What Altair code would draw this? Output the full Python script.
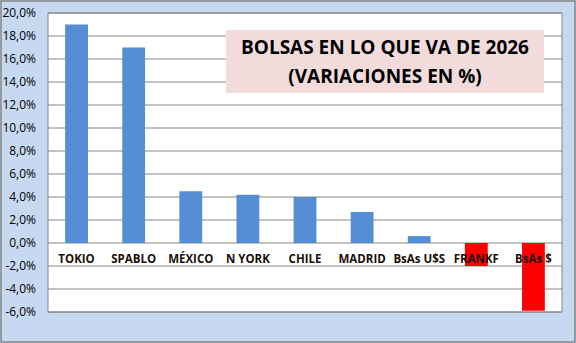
import altair as alt
import pandas as pd

categories = ["TOKIO", "SPABLO", "MÉXICO", "N YORK", "CHILE", "MADRID", "BsAs U$S", "FRANKF", "BsAs $"]
values = [19.0, 17.0, 4.5, 4.2, 4.0, 2.7, 0.6, -2.0, -5.9]
y_ticks = [20, 18, 16, 14, 12, 10, 8, 6, 4, 2, 0, -2, -4, -6]
y_tick_labels = ["20,0%", "18,0%", "16,0%", "14,0%", "12,0%", "10,0%", "8,0%", "6,0%",
                 "4,0%", "2,0%", "0,0%", "-2,0%", "-4,0%", "-6,0%"]
title_lines = ["BOLSAS EN LO QUE VA DE 2026", "(VARIACIONES EN %)"]

df = pd.DataFrame({"cat": categories, "val": values})
df["color"] = ["#FF0000" if v < 0 else "#558ED5" for v in values]
grid_df = pd.DataFrame({"g": y_ticks, "lab": y_tick_labels})

W, H = 514, 299
FONT = "Open Sans"

x = alt.X("cat:N", sort=categories, axis=None,
          scale=alt.Scale(paddingInner=0.6, paddingOuter=0.3))
yscale = alt.Scale(domain=[-6, 20], nice=False, zero=False)
yaxis = alt.Axis(values=y_ticks, title=None, grid=False, labels=False,
                 ticks=False, domain=True, domainColor="#868686")

one = pd.DataFrame({"a": [0]})

plotbg = alt.Chart(one).mark_rect(fill="white", stroke="#868686", strokeWidth=1).encode(
    x=alt.value(0), x2=alt.value(W), y=alt.value(0), y2=alt.value(H))

grid = alt.Chart(grid_df).mark_rule(color="#868686", strokeWidth=1).encode(
    y=alt.Y("g:Q", scale=yscale, axis=yaxis), x=alt.value(0), x2=alt.value(W))

ylabels = alt.Chart(grid_df).mark_text(
    font=FONT, fontSize=12, color="#000000", align="right", baseline="middle", clip=False
).encode(y=alt.Y("g:Q", scale=yscale, axis=yaxis), x=alt.value(-12), text="lab:N")

# outer frame (stroke only)
frame = alt.Chart(one).mark_rect(
    fill="transparent", stroke="#868686", strokeWidth=1.5, clip=False
).encode(x=alt.value(-47), x2=alt.value(W + 13), y=alt.value(-12), y2=alt.value(H + 30))

bars = alt.Chart(df).mark_bar().encode(
    x=x, y=alt.Y("val:Q", scale=yscale, axis=yaxis), y2=alt.datum(0),
    color=alt.Color("color:N", scale=None),
)

labels = alt.Chart(df).mark_text(
    font=FONT, fontSize=11.5, fontWeight="bold", color="#1a1008", dy=17
).encode(x=x, y=alt.datum(0), text="cat:N")

box = alt.Chart(one).mark_rect(fill="#F2DCDB").encode(
    x=alt.value(178), x2=alt.value(496), y=alt.value(17), y2=alt.value(80))

t1 = alt.Chart(one).mark_text(
    font=FONT, fontSize=19, fontWeight="bold", color="#000000", align="center", baseline="middle",
    text=title_lines[0]
).encode(x=alt.value(337), y=alt.value(35))
t2 = alt.Chart(one).mark_text(
    font=FONT, fontSize=19, fontWeight="bold", color="#000000", align="center", baseline="middle",
    text=title_lines[1]
).encode(x=alt.value(337), y=alt.value(64))

chart = alt.layer(plotbg, grid, bars, labels, ylabels, box, t1, t2, frame).properties(
    width=W, height=H,
    autosize=alt.AutoSizeParams(type="none"),
    padding={"left": 48, "top": 13, "right": 14, "bottom": 31},
    background="#C6D9F0",
).configure_view(stroke=None)

chart.save("out.html", embed_options={"renderer": "svg", "actions": False})
